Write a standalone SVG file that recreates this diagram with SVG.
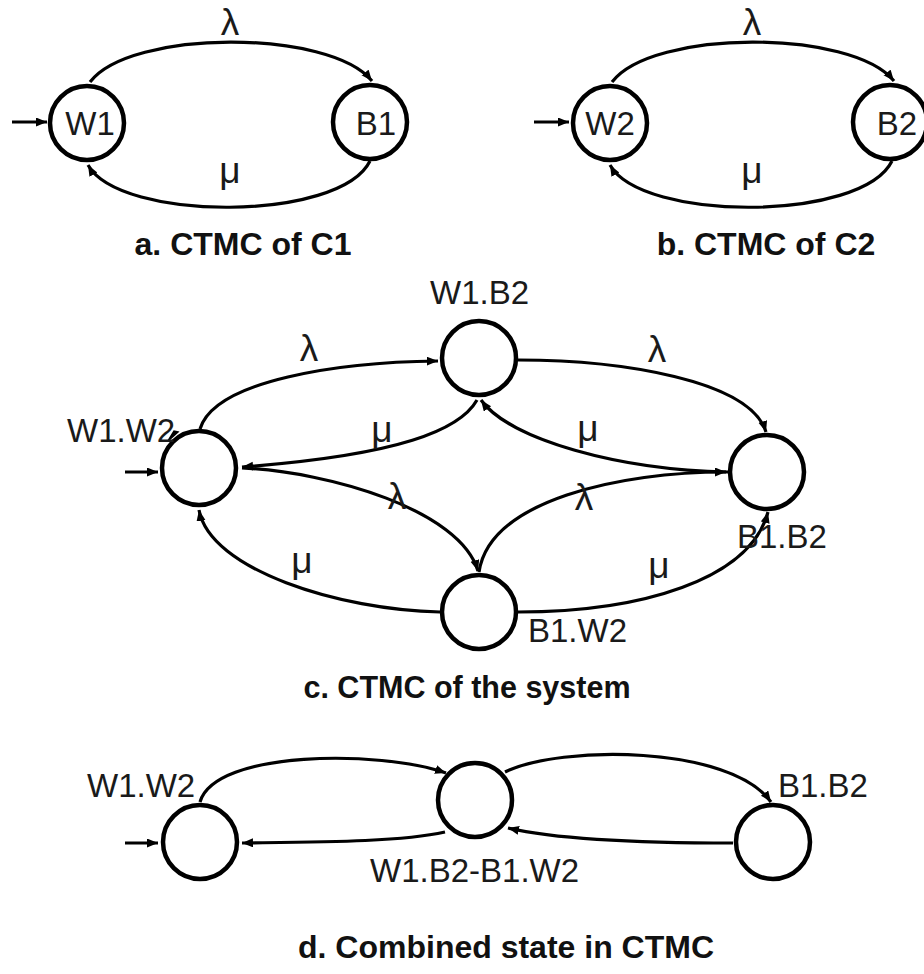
<svg xmlns="http://www.w3.org/2000/svg" width="924" height="974" viewBox="0 0 924 974">
<defs>
<marker id="ah" markerUnits="userSpaceOnUse" markerWidth="12" markerHeight="10" refX="11" refY="4.5" orient="auto">
<path d="M0,0 L11,4.5 L0,9 z" fill="#000"/>
</marker>
<style>
.st{fill:#fff;stroke:#000;stroke-width:4.5}
.e{fill:none;stroke:#000;stroke-width:3.2;marker-end:url(#ah)}
.lb{font-family:"Liberation Sans",Arial,sans-serif;font-size:33px;fill:#1a1a1a}
.gk{font-family:"Liberation Sans",Arial,sans-serif;font-size:37px;fill:#1a1a1a;text-anchor:middle}
.m{text-anchor:middle}
.cap{font-family:"Liberation Sans",Arial,sans-serif;font-size:32px;font-weight:bold;fill:#111;text-anchor:middle}
</style>
</defs>
<rect width="924" height="974" fill="#fff"/>

<g id="connectors">
<!-- a -->
<path class="e" d="M12,122 L47,122"/>
<path class="e" d="M90,82 C130,29 330,29 372,81"/>
<path class="e" d="M370,161 C340,222 120,222 88,165"/>
<!-- b -->
<path class="e" d="M534,122 L569,122"/>
<path class="e" d="M612,82 C652,29 852,29 894,81"/>
<path class="e" d="M892,161 C862,222 642,222 610,165"/>
<!-- c -->
<path class="e" d="M125,472 L158,472"/>
<path class="e" d="M200,429 C215,380 340,362 438,361"/>
<path class="e" d="M477,400 C460,430 400,455 242,467"/>
<path class="e" d="M242,468 C330,472 460,510 478,571"/>
<path class="e" d="M440,612 C340,610 210,570 199,510"/>
<path class="e" d="M518,360 C620,360 750,380 766,432"/>
<path class="e" d="M728,472 C620,470 510,440 481,400"/>
<path class="e" d="M479,572 C490,500 620,472 726,472"/>
<path class="e" d="M518,612 C640,612 750,580 768,512"/>
<path d="M178,432 L168,441 L174,431 z" fill="#000" stroke="#000" stroke-width="1.5"/>
<!-- d -->
<path class="e" d="M125,843 L158,843"/>
<path class="e" d="M200,802 C215,750 380,750 446,773"/>
<path class="e" d="M505,772 C560,745 730,745 771,802"/>
<path class="e" d="M733,843 C640,843 560,840 508,828"/>
<path class="e" d="M445,832 C400,842 320,842 242,843"/>
</g>

<g id="labels-edges">
<text class="gk" x="230" y="35">λ</text>
<text class="gk" x="230" y="183">μ</text>
<text class="gk" x="752" y="35">λ</text>
<text class="gk" x="752" y="183">μ</text>
<text class="gk" x="309" y="361">λ</text>
<text class="gk" x="382" y="442">μ</text>
<text class="gk" x="397" y="509">λ</text>
<text class="gk" x="302" y="573">μ</text>
<text class="gk" x="657" y="362">λ</text>
<text class="gk" x="588" y="441">μ</text>
<text class="gk" x="584" y="510">λ</text>
<text class="gk" x="659" y="578">μ</text>
</g>

<g id="W1"><circle class="st" cx="87" cy="123" r="37"/><text class="lb m" x="90" y="135">W1</text></g>
<g id="B1"><circle class="st" cx="370" cy="122" r="37"/><text class="lb m" x="376" y="135">B1</text></g>
<g id="W2"><circle class="st" cx="610" cy="123" r="37"/><text class="lb m" x="610" y="135">W2</text></g>
<g id="B2"><circle class="st" cx="890" cy="122" r="37"/><text class="lb m" x="897" y="135">B2</text></g>

<g id="c-W1W2"><circle class="st" cx="199" cy="468" r="37"/><text class="lb" x="67" y="442">W1.W2</text></g>
<g id="c-W1B2"><circle class="st" cx="479" cy="358" r="37"/><text class="lb" x="430" y="304">W1.B2</text></g>
<g id="c-B1B2"><circle class="st" cx="767" cy="472" r="37"/><text class="lb" x="737" y="548">B1.B2</text></g>
<g id="c-B1W2"><circle class="st" cx="479" cy="612" r="37"/><text class="lb" x="528" y="642">B1.W2</text></g>

<g id="d-W1W2"><circle class="st" cx="200" cy="842" r="37"/><text class="lb" x="87" y="797">W1.W2</text></g>
<g id="d-comb"><circle class="st" cx="475" cy="800" r="37"/><text class="lb" x="370" y="882">W1.B2-B1.W2</text></g>
<g id="d-B1B2"><circle class="st" cx="773" cy="842" r="37"/><text class="lb" x="778" y="797">B1.B2</text></g>

<g id="captions">
<text class="cap" x="243" y="255">a. CTMC of C1</text>
<text class="cap" x="766" y="255">b. CTMC of C2</text>
<text class="cap" x="467" y="698" style="font-size:30.5px">c. CTMC of the system</text>
<text class="cap" x="506" y="958">d. Combined state in CTMC</text>
</g>
</svg>
